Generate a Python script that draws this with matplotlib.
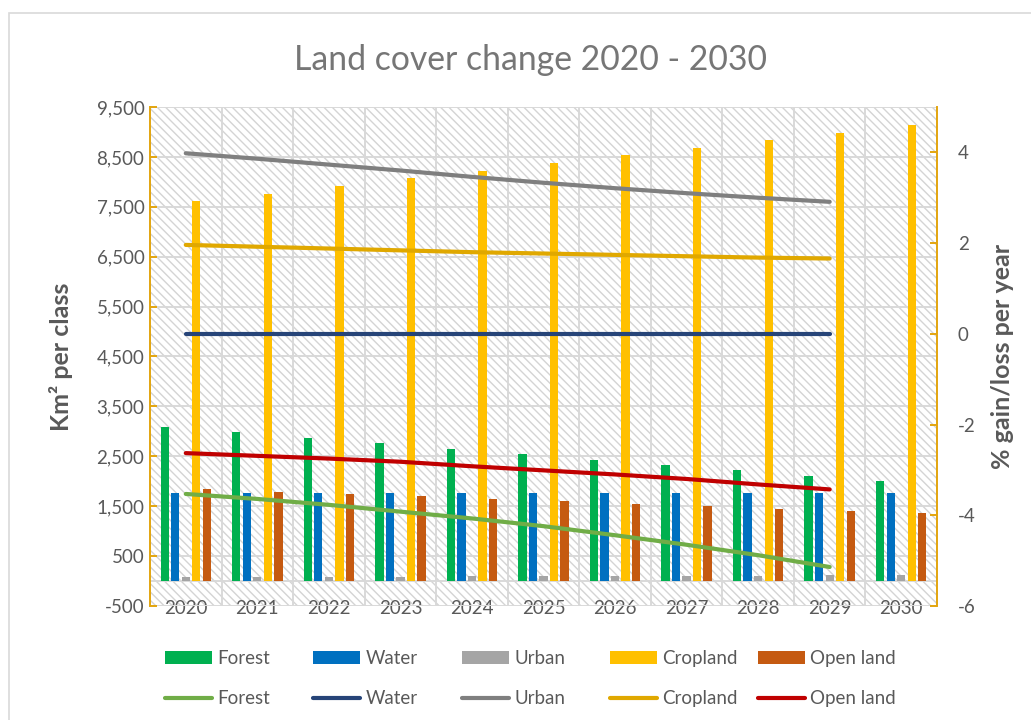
import numpy as np
import matplotlib
import matplotlib.pyplot as plt
from matplotlib.patches import Rectangle
from matplotlib.ticker import FuncFormatter

matplotlib.use("Agg")

# categories
years = ["2020", "2021", "2022", "2023", "2024", "2025",
         "2026", "2027", "2028", "2029", "2030"]
classes = ["Forest", "Water", "Urban", "Cropland", "Open land"]

# area per class (km2), bars
forest_km2 = [3080, 2980, 2870, 2760, 2645, 2545, 2430, 2325, 2220, 2105, 2005]
water_km2 = [1770, 1770, 1770, 1770, 1770, 1770, 1770, 1770, 1770, 1770, 1770]
urban_km2 = [75, 80, 85, 88, 92, 96, 100, 104, 108, 114, 120]
cropland_km2 = [7615, 7762, 7915, 8070, 8222, 8377, 8531, 8684, 8832, 8978, 9138]
openland_km2 = [1840, 1787, 1738, 1695, 1643, 1600, 1549, 1503, 1449, 1403, 1357]

# % gain/loss per year, lines (2020-2029)
forest_pct = [-3.53, -3.64, -3.77, -3.92, -4.07, -4.24, -4.44, -4.65, -4.88, -5.14]
water_pct = [0, 0, 0, 0, 0, 0, 0, 0, 0, 0]
urban_pct = [3.98, 3.86, 3.73, 3.60, 3.46, 3.33, 3.21, 3.10, 3.00, 2.91]
cropland_pct = [1.96, 1.92, 1.88, 1.84, 1.80, 1.77, 1.74, 1.71, 1.68, 1.66]
openland_pct = [-2.63, -2.69, -2.75, -2.82, -2.92, -3.01, -3.10, -3.20, -3.32, -3.43]

bar_colors = ["#00B050", "#0070C0", "#A5A5A5", "#FFC000", "#C55A11"]
line_colors = ["#70AD47", "#264478", "#7F7F7F", "#E0A800", "#C00000"]
axis_gold = "#E3A50F"
grid_gray = "#D9D9D9"
text_gray = "#595959"

plt.rcParams["font.family"] = ["Lato", "DejaVu Sans"]
plt.rcParams["hatch.linewidth"] = 1.0
plt.rcParams["axes.unicode_minus"] = False

fig = plt.figure(figsize=(10.31, 7.2), dpi=100)
ax = fig.add_axes([150 / 1031, 1 - 606 / 720, 787 / 1031, 499 / 720])
ax2 = ax.twinx()

# chart border
fig.patches.append(Rectangle((9 / 1031, -0.01), 1.0, 1 - 13 / 720 + 0.01,
                             transform=fig.transFigure, fill=False,
                             edgecolor=grid_gray, linewidth=1.2))

# hatched plot area
ax.add_patch(Rectangle((0, 0), 1, 1, transform=ax.transAxes, facecolor="white",
                       edgecolor="#D4D4D4", hatch="\\\\\\\\", linewidth=0, zorder=0))

x = np.arange(len(years))
bar_w = 0.116
step = 0.147
bar_data = [forest_km2, water_km2, urban_km2, cropland_km2, openland_km2]
bars = []
for i, (vals, col) in enumerate(zip(bar_data, bar_colors)):
    b = ax.bar(x + (i - 2) * step, vals, width=bar_w, color=col, zorder=2,
               label=classes[i])
    bars.append(b)

ax.axhline(0, color=grid_gray, lw=1.4, zorder=1)

ax.set_xlim(-0.5, len(years) - 0.5)
ax.set_ylim(-500, 9500)
ax.set_yticks(np.arange(-500, 9501, 1000))
ax.yaxis.set_major_formatter(FuncFormatter(lambda v, p: f"{v:,.0f}"))
ax.set_xticks(x)
ax.set_xticklabels(years)
ax.set_xticks(np.arange(-0.5, len(years)), minor=True)
ax.set_axisbelow(True)
ax.grid(axis="y", which="major", color=grid_gray, lw=1.4)
ax.grid(axis="x", which="minor", color=grid_gray, lw=1.4)
ax.tick_params(axis="x", which="both", length=0, pad=-4, labelsize=13.5,
               labelcolor=text_gray)
ax.tick_params(axis="y", direction="in", length=5, width=1.4, color=axis_gold,
               labelsize=13.5, labelcolor=text_gray, pad=4)
for s in ["top", "bottom", "right"]:
    ax.spines[s].set_visible(False)
ax.spines["left"].set_color(axis_gold)
ax.spines["left"].set_linewidth(1.4)
ax.set_ylabel("Km² per class", fontsize=18, fontweight="bold", color=text_gray,
              labelpad=17)

# lines on secondary axis
line_data = [forest_pct, water_pct, urban_pct, cropland_pct, openland_pct]
lines = []
xl = np.arange(len(forest_pct))
for i, (vals, col) in enumerate(zip(line_data, line_colors)):
    ln, = ax2.plot(xl, vals, color=col, lw=3.0, solid_capstyle="round",
                   label=classes[i], zorder=3)
    lines.append(ln)

ax2.set_ylim(-6, 5.0)
ax2.set_yticks([-6, -4, -2, 0, 2, 4])
ax2.tick_params(axis="y", direction="in", length=5, width=1.4, color=axis_gold,
                labelsize=13.5, labelcolor=text_gray, pad=15)
for s in ["top", "bottom", "left"]:
    ax2.spines[s].set_visible(False)
ax2.spines["right"].set_color(axis_gold)
ax2.spines["right"].set_linewidth(1.4)
ax2.set_ylabel("% gain/loss per year", fontsize=18, fontweight="bold",
               color=text_gray, labelpad=11)

fig.text(0.515, 1 - 60 / 720, "Land cover change 2020 - 2030", ha="center",
         va="center", fontsize=24.3, color="#767676")

# legend: one small legend per class column (bar on top, line below)
col_x = [165, 313, 462, 610, 758]
for i in range(5):
    fig.legend(handles=[bars[i], lines[i]], labels=[classes[i], classes[i]],
               loc="center left", bbox_to_anchor=(col_x[i] / 1031, 1 - 678.5 / 720),
               frameon=False, fontsize=13.5, labelcolor=text_gray,
               handlelength=2.5, handletextpad=0.3, labelspacing=1.25,
               borderpad=0, borderaxespad=0)

fig.savefig("out.png", dpi=100)
